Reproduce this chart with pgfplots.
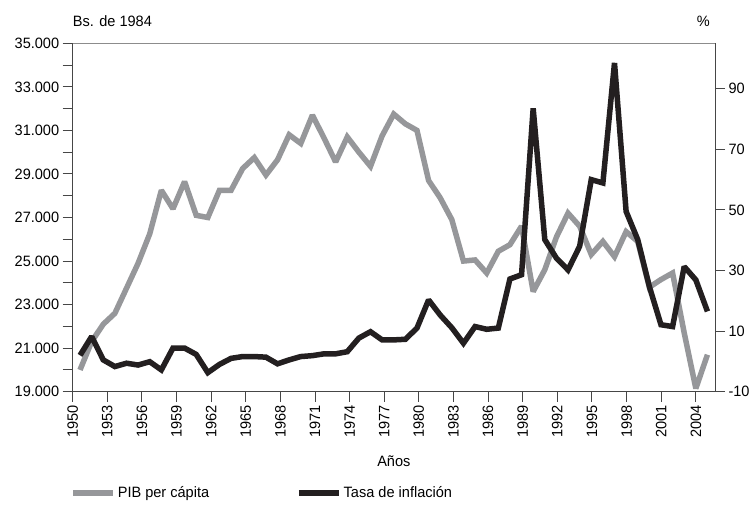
\documentclass[border=0pt]{standalone}
\usepackage{pgfplots}
\pgfplotsset{compat=1.18}
\usepackage{pgfplotstable}
\usepackage{fontspec}
\setmainfont{Liberation Sans}[FakeStretch=0.97]

\definecolor{pibgray}{RGB}{150,151,154}
\definecolor{infblack}{RGB}{35,31,32}
\definecolor{axisgray}{RGB}{140,140,140}
\definecolor{axisdark}{RGB}{70,70,70}

% PIB per capita, Bs. de 1984
\pgfplotstableread{
year pib
1950 20000
1951 21300
1952 22100
1953 22600
1954 23750
1955 24900
1956 26250
1957 28250
1958 27400
1959 28650
1960 27100
1961 27000
1962 28250
1963 28250
1964 29250
1965 29750
1966 28950
1967 29650
1968 30800
1969 30400
1970 31700
1971 30650
1972 29550
1973 30700
1974 30000
1975 29350
1976 30750
1977 31750
1978 31300
1979 31000
1980 28700
1981 27900
1982 26900
1983 25000
1984 25050
1985 24450
1986 25450
1987 25750
1988 26600
1989 23600
1990 24600
1991 26100
1992 27200
1993 26600
1994 25300
1995 25900
1996 25200
1997 26350
1998 25900
1999 23800
2000 24150
2001 24450
2002 21700
2003 19150
2004 20700
}\pibdata

% tasa de inflacion, %
\pgfplotstableread{
year inf
1950 2.0
1951 8.2
1952 0.5
1953 -1.7
1954 -0.6
1955 -1.2
1956 -0.1
1957 -2.8
1958 4.4
1959 4.4
1960 2.3
1961 -3.7
1962 -1.0
1963 1.0
1964 1.6
1965 1.6
1966 1.4
1967 -0.8
1968 0.5
1969 1.6
1970 1.9
1971 2.5
1972 2.5
1973 3.2
1974 7.7
1975 9.8
1976 7.1
1977 7.1
1978 7.3
1979 11.0
1980 20.3
1981 15.3
1982 11.1
1983 6.0
1984 11.5
1985 10.6
1986 11.0
1987 27.2
1988 28.6
1989 83.5
1990 40.2
1991 34.1
1992 30.2
1993 38.0
1994 60.0
1995 58.9
1996 98.5
1997 49.5
1998 40.2
1999 24.7
2000 12.1
2001 11.5
2002 31.3
2003 26.9
2004 16.5
}\infdata

\pgfplotsset{
  common/.style={
    at={(72.7bp,116.3bp)}, anchor=south west,
    scale only axis, width=642.3bp, height=348.4bp,
    xmin=1949.37, xmax=2004.65,
    scaled x ticks=false, scaled y ticks=false,
    tick align=outside,
    major tick length=10bp, minor tick length=10bp,
    tick style={line width=1bp, color=axisdark},
  },
  serie/.style={line width=5.5bp, line join=miter, miter limit=2},
}

\begin{document}
\begin{tikzpicture}[font=\fontsize{15bp}{18bp}\selectfont]
\path[use as bounding box] (0,0) rectangle (753bp,508bp);

\begin{axis}[
  common,
  ymin=19000, ymax=35000,
  axis x line*=bottom, axis y line*=left,
  axis line style={line width=1bp, color=axisdark},
  xtick={1949.37,1952.35,1955.33,1958.31,1961.29,1964.27,1967.25,1970.23,1973.21,1976.18,1979.16,1982.14,1985.12,1988.10,1991.08,1994.06,1997.04,2000.02,2003.00},
  xticklabels={1950,1953,1956,1959,1962,1965,1968,1971,1974,1977,1980,1983,1986,1989,1992,1995,1998,2001,2004},
  xticklabel style={rotate=90, anchor=east},
  ytick={19000,21000,23000,25000,27000,29000,31000,33000,35000},
  yticklabels={19.000,21.000,23.000,25.000,27.000,29.000,31.000,33.000,35.000},
  minor ytick={20000,22000,24000,26000,28000,30000,32000,34000},
  xlabel={Años},
  xlabel style={at={(axis description cs:0.5,-0.2)}, anchor=center},
  ylabel={Bs. de 1984},
  ylabel style={rotate=-90, at={(axis description cs:0,1)}, anchor=base west, yshift=17bp, inner sep=0pt},
  legend style={at={(axis description cs:-0.004,-0.2908)}, anchor=west, draw=none, fill=none,
    inner sep=0pt, legend columns=2,
    /tikz/every even column/.append style={column sep=85bp}},
  legend image code/.code={\draw[#1] (0bp,0bp) -- (40bp,0bp);},
]
\addplot[pibgray, serie] table[x=year, y=pib] {\pibdata};
\addlegendentry{PIB per cápita}
\addlegendimage{infblack, serie}
\addlegendentry{Tasa de inflación}
\end{axis}

\begin{axis}[
  common,
  ymin=-10, ymax=105,
  axis x line*=top, axis y line*=right,
  xtick=\empty,
  x axis line style={line width=1bp, color=axisgray},
  y axis line style={line width=1bp, color=axisdark},
  ytick={-10,10,30,50,70,90},
  yticklabels={-10,10,30,50,70,90},
  ylabel={\%},
  ylabel style={rotate=-90, at={(axis description cs:1,1)}, anchor=base east, yshift=17bp, xshift=-5bp, inner sep=0pt},
]
\addplot[infblack, serie] table[x=year, y=inf] {\infdata};
\end{axis}
\end{tikzpicture}
\end{document}
